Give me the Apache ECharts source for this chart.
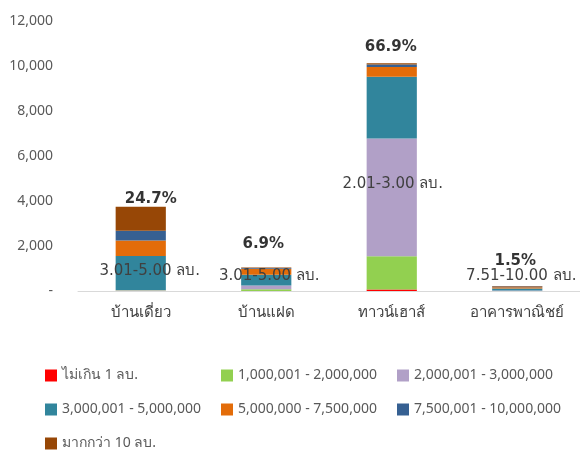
<!DOCTYPE html>
<html>
<head>
<meta charset="utf-8">
<script src="https://cdn.jsdelivr.net/npm/echarts@6/dist/echarts.min.js"></script>
<style>
  html, body { margin: 0; padding: 0; background: #fff; }
  #chart { width: 580px; height: 450px; }
</style>
</head>
<body>
<div id="chart"></div>
<script>
// หมวดหมู่ที่อยู่อาศัย
var categories = ['บ้านเดี่ยว', 'บ้านแฝด', 'ทาวน์เฮาส์', 'อาคารพาณิชย์'];

// ช่วงราคา (legend)
var seriesNames = [
  'ไม่เกิน 1 ลบ.',
  '1,000,001 - 2,000,000',
  '2,000,001 - 3,000,000',
  '3,000,001 - 5,000,000',
  '5,000,000 - 7,500,000',
  '7,500,001 - 10,000,000',
  'มากกว่า 10 ลบ.'
];

// ค่าแต่ละช่วงราคา (อ่านจากภาพ)
var under1m   = [5, 5, 70, 0];
var m1to2     = [15, 70, 1480, 5];
var m2to3     = [30, 170, 5230, 15];
var m3to5     = [1510, 480, 2740, 90];
var m5to75    = [690, 260, 440, 55];
var m75to10   = [430, 40, 105, 40];
var over10m   = [1060, 20, 60, 22];

// ป้ายเปอร์เซ็นต์เหนือแท่ง
var pctLabels = ['24.7%', '6.9%', '66.9%', '1.5%'];
var pctOffsets = [[10, 0], [-3, -16], [-1, -9], [-2, -17]];

// ป้ายช่วงราคาที่ชี้ในแท่ง: [series index, category index, text]
var callouts = [
  [3, 0, '3.01-5.00 ลบ.'],
  [3, 1, '3.01-5.00 ลบ.'],
  [2, 2, '2.01-3.00 ลบ.'],
  [5, 3, '7.51-10.00 ลบ.']
];
var calloutOffsets = [[9, -2], [3, -4], [1, -13], [4, -11]];

var colors = ['#ff0000', '#92d050', '#b1a0c7', '#31859c', '#e36c09', '#366092', '#974706'];

var allData = [under1m, m1to2, m2to3, m3to5, m5to75, m75to10, over10m];
var fontFam = '"Noto Sans", "DejaVu Sans", sans-serif';
var wideFont = '"DejaVu Sans", "Noto Sans", sans-serif';

var myChart = echarts.init(document.getElementById('chart'));

var series = [];
for (var s = 0; s < allData.length; s++) {
  var dataItems = [];
  for (var c = 0; c < categories.length; c++) {
    var item = { value: allData[s][c] };
    for (var k = 0; k < callouts.length; k++) {
      if (callouts[k][0] === s && callouts[k][1] === c) {
        item.label = {
          show: true,
          position: 'inside',
          offset: calloutOffsets[k],
          formatter: callouts[k][2],
          color: '#404040',
          fontSize: 15,
          fontFamily: wideFont
        };
      }
    }
    dataItems.push(item);
  }
  series.push({
    name: seriesNames[s],
    type: 'bar',
    stack: 'total',
    barWidth: '40%',
    itemStyle: { color: colors[s] },
    label: { show: false },
    emphasis: { disabled: true },
    data: dataItems
  });
}

// ผลรวมเพื่อวางป้ายเปอร์เซ็นต์ไว้บนยอดแท่ง
var totalItems = [];
for (var c = 0; c < categories.length; c++) {
  var t = 0;
  for (var s = 0; s < allData.length; s++) t += allData[s][c];
  totalItems.push({
    value: t,
    label: { offset: pctOffsets[c] }
  });
}
series.push({
  name: 'pct',
  type: 'scatter',
  symbolSize: 0,
  silent: true,
  data: totalItems,
  label: {
    show: true,
    position: 'top',
    distance: 0,
    formatter: function (p) { return pctLabels[p.dataIndex]; },
    color: '#000',
    fontWeight: 'bold',
    fontSize: 15,
    fontFamily: wideFont
  }
});

myChart.setOption({
  animation: false,
  color: colors,
  textStyle: { fontFamily: fontFam },
  grid: { left: 78, width: 508, top: 21, bottom: 159 },
  legend: {
    data: seriesNames,
    left: 40,
    top: 358,
    width: 545,
    itemWidth: 12,
    itemHeight: 12,
    itemGap: 9,
    icon: 'rect',
    textStyle: {
      color: '#595959',
      fontSize: 14,
      fontFamily: fontFam,
      width: 150,
      height: 25,
      lineHeight: 25
    }
  },
  xAxis: {
    type: 'category',
    data: categories,
    axisLine: { lineStyle: { color: '#d9d9d9', width: 1 } },
    axisTick: { show: false },
    axisLabel: { color: '#404040', fontSize: 15, margin: 14, fontFamily: fontFam }
  },
  yAxis: {
    type: 'value',
    min: 0,
    max: 12000,
    interval: 2000,
    splitLine: { show: false },
    axisLine: { show: false },
    axisTick: { show: false },
    axisLabel: {
      color: '#595959',
      fontSize: 14,
      margin: 25,
      fontFamily: fontFam,
      formatter: function (v) { return v === 0 ? '-' : v.toLocaleString('en-US'); }
    }
  },
  series: series
});
</script>
</body>
</html>
